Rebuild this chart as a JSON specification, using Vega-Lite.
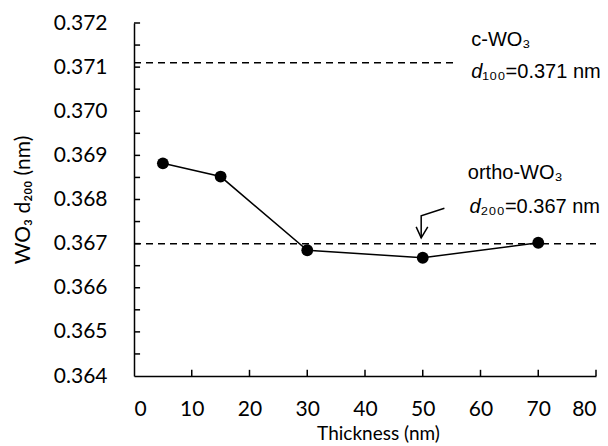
{
  "$schema": "https://vega.github.io/schema/vega-lite/v6.json",
  "width": 462,
  "height": 353,
  "autosize": {"type": "none"},
  "padding": {"left": 134, "top": 23, "right": 12, "bottom": 70},
  "background": "white",
  "config": {
    "view": {"stroke": null},
    "axis": {
      "grid": false,
      "ticks": false,
      "domainColor": "black",
      "domainWidth": 1.5,
      "labelColor": "black",
      "titleColor": "black",
      "labelFont": "Lato",
      "titleFont": "Lato",
      "labelFontSize": 21,
      "titleFontSize": 21,
      "titleFontWeight": "normal"
    }
  },
  "datasets": {
    "pts": [
      {"t": 5, "d": 0.36882},
      {"t": 15, "d": 0.36852},
      {"t": 30, "d": 0.36685},
      {"t": 50, "d": 0.36668},
      {"t": 70, "d": 0.36702}
    ],
    "refs": [
      {"y": 0.3711, "xa": 0, "xb": 55.5},
      {"y": 0.367, "xa": 0, "xb": 80}
    ],
    "yticks": [
      {"v": 0.3645}, {"v": 0.365}, {"v": 0.3655}, {"v": 0.366}, {"v": 0.3665}, {"v": 0.367}, {"v": 0.3675}, {"v": 0.368},
      {"v": 0.3685}, {"v": 0.369}, {"v": 0.3695}, {"v": 0.37}, {"v": 0.3705}, {"v": 0.371}, {"v": 0.3715}, {"v": 0.372}
    ],
    "xticks": [
      {"v": 10}, {"v": 20}, {"v": 30}, {"v": 40}, {"v": 50}, {"v": 60}, {"v": 70}, {"v": 80}
    ],
    "arrow": [
      {"seg": "shaft", "o": 1, "x": 53.75, "y": 0.3678},
      {"seg": "shaft", "o": 2, "x": 49.73, "y": 0.36763},
      {"seg": "shaft", "o": 3, "x": 49.73, "y": 0.36713},
      {"seg": "head", "o": 1, "x": 48.86, "y": 0.36738},
      {"seg": "head", "o": 2, "x": 49.73, "y": 0.36713},
      {"seg": "head", "o": 3, "x": 50.87, "y": 0.36738}
    ],
    "phases": [
      {"x": 58.4, "y": 0.37162, "txt": "c-WO₃"},
      {"x": 57.8, "y": 0.36859, "txt": "ortho-WO₃"}
    ],
    "spacings": [
      {"x": 58.4, "y": 0.37088, "txt": "₁₀₀=0.371 nm"},
      {"x": 58.1, "y": 0.36782, "txt": "₂₀₀=0.367 nm"}
    ]
  },
  "layer": [
    {
      "data": {"name": "refs"},
      "mark": {"type": "rule", "strokeDash": [7, 5], "strokeWidth": 1.5, "color": "black"},
      "encoding": {
        "x": {"field": "xa", "type": "quantitative", "scale": {"domain": [0, 80], "nice": false}},
        "x2": {"field": "xb"},
        "y": {"field": "y", "type": "quantitative", "scale": {"domain": [0.364, 0.372], "nice": false, "zero": false}}
      }
    },
    {
      "data": {"name": "yticks"},
      "mark": {"type": "rule", "strokeWidth": 1.5, "color": "black"},
      "encoding": {
        "x": {"datum": 0, "type": "quantitative"},
        "x2": {"datum": 1.05},
        "y": {"field": "v", "type": "quantitative"}
      }
    },
    {
      "data": {"name": "xticks"},
      "mark": {"type": "rule", "strokeWidth": 1.5, "color": "black"},
      "encoding": {
        "x": {"field": "v", "type": "quantitative"},
        "y": {"datum": 0.364, "type": "quantitative"},
        "y2": {"datum": 0.36414}
      }
    },
    {
      "data": {"name": "pts"},
      "mark": {"type": "line", "color": "black", "strokeWidth": 1.5},
      "encoding": {
        "x": {
          "field": "t", "type": "quantitative",
          "scale": {"domain": [0, 80], "nice": false},
          "axis": {
            "title": "Thickness (nm)",
            "values": [0, 10, 20, 30, 40, 50, 60, 70, 80],
            "labelPadding": 22,
            "titleFontSize": 19,
            "titlePadding": 5,
            "titleX": 244
          }
        },
        "y": {
          "field": "d", "type": "quantitative",
          "scale": {"domain": [0.364, 0.372], "nice": false, "zero": false},
          "axis": {
            "title": "WO₃ d₂₀₀ (nm)",
            "values": [0.364, 0.365, 0.366, 0.367, 0.368, 0.369, 0.37, 0.371, 0.372],
            "format": ".3f",
            "labelPadding": 27,
            "titlePadding": 20
          }
        }
      }
    },
    {
      "data": {"name": "pts"},
      "mark": {"type": "circle", "color": "black", "opacity": 1, "size": 140},
      "encoding": {
        "x": {"field": "t", "type": "quantitative"},
        "y": {"field": "d", "type": "quantitative"}
      }
    },
    {
      "data": {"name": "arrow"},
      "mark": {"type": "line", "color": "black", "strokeWidth": 1.5},
      "encoding": {
        "x": {"field": "x", "type": "quantitative"},
        "y": {"field": "y", "type": "quantitative"},
        "detail": {"field": "seg"},
        "order": {"field": "o"}
      }
    },
    {
      "data": {"name": "phases"},
      "mark": {"type": "text", "align": "left", "baseline": "middle", "font": "Liberation Sans", "fontSize": 20, "color": "black"},
      "encoding": {
        "x": {"field": "x", "type": "quantitative"},
        "y": {"field": "y", "type": "quantitative"},
        "text": {"field": "txt"}
      }
    },
    {
      "data": {"name": "spacings"},
      "mark": {"type": "text", "align": "left", "baseline": "middle", "font": "Liberation Sans", "fontSize": 20, "fontStyle": "italic", "color": "black"},
      "encoding": {
        "x": {"field": "x", "type": "quantitative"},
        "y": {"field": "y", "type": "quantitative"},
        "text": {"value": "d"}
      }
    },
    {
      "data": {"name": "spacings"},
      "mark": {"type": "text", "align": "left", "baseline": "middle", "font": "Liberation Sans", "fontSize": 20, "dx": 11, "color": "black"},
      "encoding": {
        "x": {"field": "x", "type": "quantitative"},
        "y": {"field": "y", "type": "quantitative"},
        "text": {"field": "txt"}
      }
    }
  ]
}
